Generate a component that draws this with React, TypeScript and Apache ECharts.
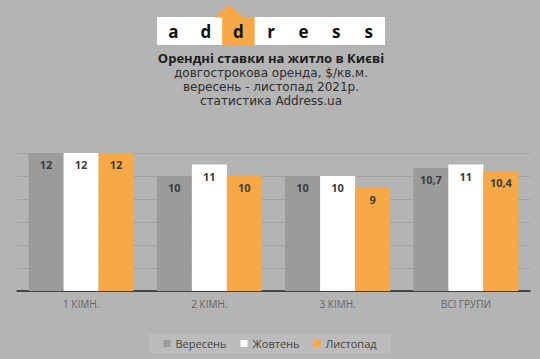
import React, { useEffect, useRef } from "react";
import * as echarts from "echarts";

const categories = ["1 КІМН.", "2 КІМН.", "3 КІМН.", "ВСІ ГРУПИ"];
const september = [12, 10, 10, 10.7];
const october = [12, 11, 10, 11];
const november = [12, 10, 9, 10.4];
const seriesNames = ["Вересень", "Жовтень", "Листопад"];
const logoLetters = ["a", "d", "d", "r", "e", "s", "s"];
const titleText = "Орендні ставки на житло в Києві";
const subLines = ["довгострокова оренда, $/кв.м.", "вересень - листопад 2021р.", "статистика Address.ua"];

const BG = "#b4b4b4";
const GRAY = "#9b9b9b";
const WHITE = "#ffffff";
const ORANGE = "#f8a947";
const FONT = "'Open Sans', 'Noto Sans', sans-serif";
const WIDE = "'DejaVu Sans', 'Open Sans', sans-serif";

export default function App() {
  const ref = useRef<HTMLDivElement>(null);
  useEffect(() => {
    if (!ref.current) return;
    const chart = echarts.init(ref.current, null, { renderer: "svg" });
    const label = {
      show: true,
      position: "insideTop",
      distance: 6,
      color: "#3c3c3c",
      fontSize: 11,
      fontWeight: "bold",
      fontFamily: FONT,
      formatter: (p: any) => String(p.value).replace(".", ","),
    };
    const logoX = 157;
    const cell = 228 / logoLetters.length;
    const graphic: any[] = [
      { type: "rect", shape: { x: logoX, y: 17, width: 228, height: 28 }, style: { fill: "#fff" } },
      { type: "rect", shape: { x: logoX + cell * 2, y: 17, width: cell, height: 28 }, style: { fill: ORANGE } },
      { type: "polygon", shape: { points: [[214, 17.5], [229, 5], [244, 17.5]] }, style: { fill: ORANGE } },
      ...logoLetters.map((ch, i) => ({
        type: "text",
        x: logoX + cell * (i + 0.5),
        y: 31,
        style: {
          text: ch,
          fill: "#111",
          font: `bold 17px ${FONT}`,
          align: "center",
          verticalAlign: "middle",
        },
      })),
      {
        type: "text",
        x: 271,
        y: 57.5,
        style: { text: titleText, fill: "#1c1c1c", font: `bold 13px ${FONT}`, align: "center", verticalAlign: "middle" },
      },
      ...subLines.map((t, i) => ({
        type: "text",
        x: 271,
        y: 73 + i * 14,
        style: { text: t, fill: "#2e2e2e", font: `12px ${WIDE}`, align: "center", verticalAlign: "middle" },
      })),
    ];
    chart.setOption({
      animation: false,
      backgroundColor: BG,
      textStyle: { fontFamily: FONT },
      graphic,
      legend: {
        data: seriesNames.map((n) => ({ name: n, icon: "rect" })),
        left: "center",
        top: 334,
        itemWidth: 7,
        itemHeight: 7,
        itemGap: 14,
        backgroundColor: "#bcbcbc",
        padding: [4, 14],
        textStyle: { color: "#444", fontSize: 11, fontFamily: FONT },
      },
      grid: { left: 17, right: 10, top: 153, bottom: 68 },
      xAxis: {
        type: "category",
        data: categories,
        axisLine: { lineStyle: { color: "#222", width: 1.5 } },
        axisTick: { show: false },
        axisLabel: { color: "#666", fontSize: 10, margin: 8, fontFamily: FONT },
      },
      yAxis: {
        type: "value",
        min: 0,
        max: 12,
        interval: 2,
        axisLabel: { show: false },
        axisLine: { show: false },
        axisTick: { show: false },
        splitLine: { lineStyle: { color: "#a2a2a2", width: 1 } },
      },
      series: [
        { name: seriesNames[0], type: "bar", data: september, barWidth: 35, barGap: "0%", itemStyle: { color: GRAY }, label },
        { name: seriesNames[1], type: "bar", data: october, barWidth: 35, barGap: "0%", itemStyle: { color: WHITE }, label },
        { name: seriesNames[2], type: "bar", data: november, barWidth: 35, barGap: "0%", itemStyle: { color: ORANGE }, label },
      ],
    });
    return () => chart.dispose();
  }, []);
  return <div ref={ref} style={{ width: 540, height: 359, position: "fixed", left: 0, top: 0 }} />;
}
